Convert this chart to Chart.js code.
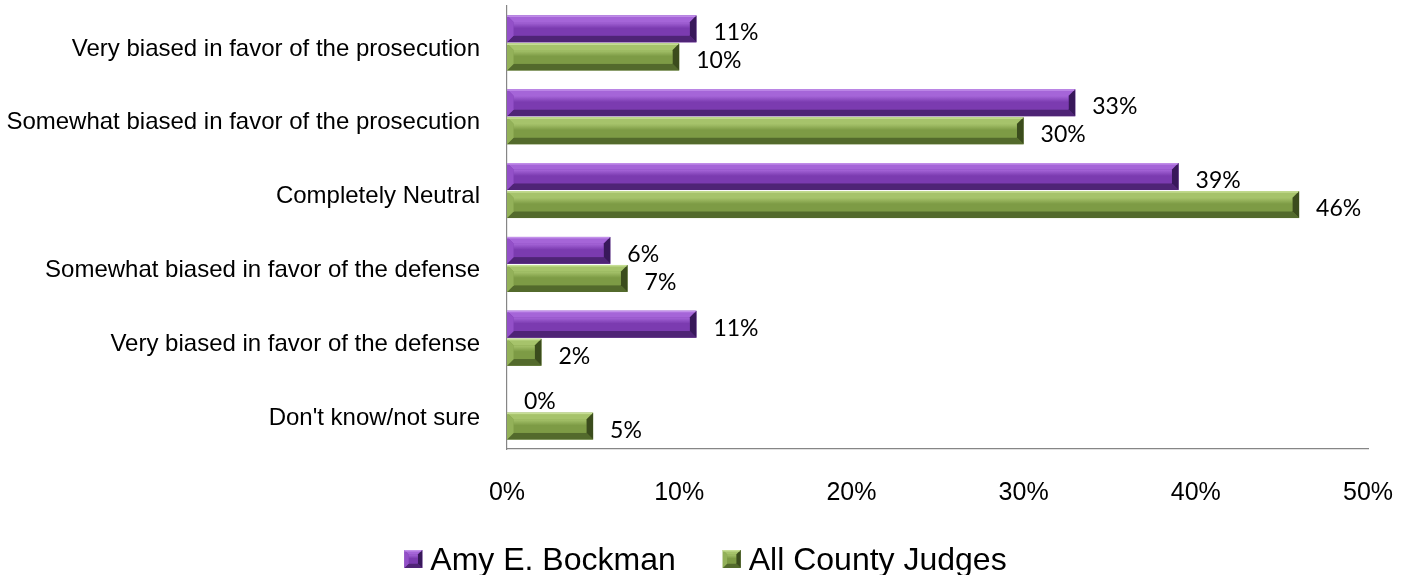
<!DOCTYPE html>
<html>
<head>
<meta charset="utf-8">
<script src="https://cdn.jsdelivr.net/npm/chart.js@4"></script>
<style>
html,body{margin:0;padding:0;background:#fff;overflow:hidden;}
#wrap{width:1411px;height:575px;position:relative;}
</style>
</head>
<body>
<div id="wrap"><canvas id="c"></canvas></div>
<script>
const categories = [
  "Very biased in favor of the prosecution",
  "Somewhat biased in favor of the prosecution",
  "Completely Neutral",
  "Somewhat biased in favor of the defense",
  "Very biased in favor of the defense",
  "Don't know/not sure"
];
const seriesNames = ["Amy E. Bockman", "All County Judges"];
const bockman = [11, 33, 39, 6, 11, 0];
const allJudges = [10, 30, 46, 7, 2, 5];
const xTicks = [0, 10, 20, 30, 40, 50];

const palettes = [
  {mid:'#7b3bb0', light:'#a565d8', top:'#c290ea', dark:'#4f2476', end:'#38185a', left:'#9350c8'},
  {mid:'#7d9b45', light:'#a6c36b', top:'#c6de94', dark:'#536a2c', end:'#3b4c1d', left:'#93b159'}
];

function drawBevel(ctx, x0, x1, t, b, p) {
  const h = b - t;
  if (x1 - x0 <= 0.5) return;
  const s = Math.min(h * 0.25, (x1 - x0) / 2);
  ctx.fillStyle = p.mid;
  ctx.fillRect(x0, t, x1 - x0, h);
  ctx.fillStyle = p.light;
  ctx.beginPath();
  ctx.moveTo(x0, t); ctx.lineTo(x1, t); ctx.lineTo(x1 - s, t + s); ctx.lineTo(x0 + s, t + s); ctx.closePath(); ctx.fill();
  ctx.fillStyle = p.dark;
  ctx.beginPath();
  ctx.moveTo(x0, b); ctx.lineTo(x1, b); ctx.lineTo(x1 - s, b - s); ctx.lineTo(x0 + s, b - s); ctx.closePath(); ctx.fill();
  ctx.fillStyle = p.end;
  ctx.beginPath();
  ctx.moveTo(x1, t); ctx.lineTo(x1, b); ctx.lineTo(x1 - s, b - s); ctx.lineTo(x1 - s, t + s); ctx.closePath(); ctx.fill();
  ctx.fillStyle = p.left;
  ctx.beginPath();
  ctx.moveTo(x0, t); ctx.lineTo(x0, b); ctx.lineTo(x0 + s, b - s); ctx.lineTo(x0 + s, t + s); ctx.closePath(); ctx.fill();
  const g = ctx.createLinearGradient(0, t + s, 0, b - s);
  g.addColorStop(0, p.light);
  g.addColorStop(0.45, p.mid);
  g.addColorStop(1, p.mid);
  ctx.fillStyle = g;
  ctx.fillRect(x0 + s, t + s, Math.max(0, x1 - x0 - 2 * s), h - 2 * s);
  ctx.fillStyle = p.top;
  ctx.fillRect(x0, t, x1 - x0 - 1, 1.5);
}

const bevelPlugin = {
  id: 'bevel',
  afterDatasetsDraw(chart) {
    const ctx = chart.ctx;
    chart.data.datasets.forEach((ds, di) => {
      const meta = chart.getDatasetMeta(di);
      const p = palettes[di];
      meta.data.forEach((bar, i) => {
        const props = bar.getProps(['x','y','base','height'], true);
        const t = props.y - props.height / 2, b = props.y + props.height / 2;
        ctx.save();
        drawBevel(ctx, props.base, props.x, t, b, p);
        ctx.restore();
        ctx.save();
        ctx.font = '23px Lato, "Open Sans", sans-serif';
        ctx.fillStyle = '#000';
        ctx.textAlign = 'left';
        ctx.textBaseline = 'middle';
        ctx.fillText(ds.data[i] + '%', props.x + 17, props.y + 4);
        ctx.restore();
      });
    });
  }
};

const customLegend = {
  id: 'customLegend',
  afterDraw(chart) {
    const ctx = chart.ctx;
    ctx.save();
    ctx.font = '32px "Liberation Sans", Arial, sans-serif';
    const box = 18, gapBox = 8, gapItem = 47;
    const names = chart.data.datasets.map(d => d.label);
    const widths = names.map(n => ctx.measureText(n).width);
    let total = 0;
    widths.forEach((w, i) => { total += box + gapBox + w + (i < widths.length - 1 ? gapItem : 0); });
    let x = chart.width / 2 - total / 2;
    const cy = 559;
    names.forEach((n, i) => {
      const p = palettes[i];
      drawBevel(ctx, x, x + box, cy - box / 2, cy + box / 2, p);
      ctx.fillStyle = '#000';
      ctx.textAlign = 'left';
      ctx.textBaseline = 'alphabetic';
      ctx.fillText(n, x + box + gapBox, 570);
      x += box + gapBox + widths[i] + gapItem;
    });
    ctx.restore();
  }
};

function zeroPad(scale) {
  scale.paddingTop = 0; scale.paddingBottom = 0;
  scale.paddingLeft = 0; scale.paddingRight = 0;
}

new Chart(document.getElementById('c'), {
  type: 'bar',
  data: {
    labels: categories,
    datasets: [
      { label: seriesNames[0], data: bockman, backgroundColor: 'rgba(0,0,0,0)', borderWidth: 0 },
      { label: seriesNames[1], data: allJudges, backgroundColor: 'rgba(0,0,0,0)', borderWidth: 0 }
    ]
  },
  options: {
    indexAxis: 'y',
    responsive: true,
    maintainAspectRatio: false,
    animation: false,
    devicePixelRatio: 1,
    categoryPercentage: 0.76,
    barPercentage: 0.96,
    layout: { padding: { top: 6, right: 43, left: 0, bottom: 0 } },
    scales: {
      x: {
        min: 0, max: 50,
        afterBuildTicks(scale) { scale.ticks = xTicks.map(v => ({ value: v })); },
        grid: { display: false, drawTicks: false },
        border: { display: true, color: '#868686', width: 1.2 },
        ticks: {
          padding: 29,
          color: '#000',
          maxRotation: 0,
          font: { family: '"Liberation Sans", Arial, sans-serif', size: 25 },
          callback: v => v + '%'
        },
        afterFit(scale) { scale.height = 126; zeroPad(scale); }
      },
      y: {
        grid: { display: false, drawTicks: false },
        border: { display: true, color: '#868686', width: 1.2 },
        ticks: {
          padding: 27,
          labelOffset: 6,
          color: '#000',
          font: { family: '"Liberation Sans", Arial, sans-serif', size: 24 }
        },
        afterFit(scale) { scale.width = 507; zeroPad(scale); }
      }
    },
    plugins: {
      legend: { display: false },
      tooltip: { enabled: false }
    }
  },
  plugins: [bevelPlugin, customLegend]
});
</script>
</body>
</html>
